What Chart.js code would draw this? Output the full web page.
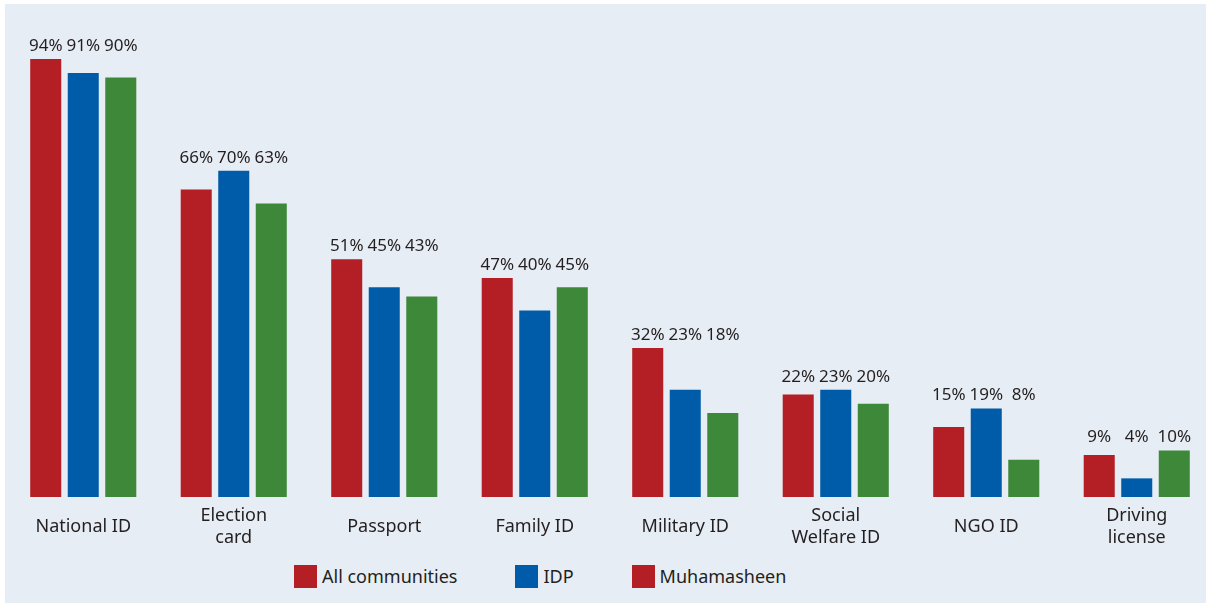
<!DOCTYPE html>
<html>
<head>
<meta charset="utf-8">
<script src="https://cdn.jsdelivr.net/npm/chart.js@4"></script>
<style>
  html, body { margin: 0; padding: 0; background: #fff; }
  body { width: 1206px; height: 606px; overflow: hidden; position: relative; font-family: "Noto Sans", sans-serif; }
  .panel { position: absolute; left: 5px; top: 4px; width: 1201px; height: 599px; background: #e7edf4; }
  .plot { position: absolute; left: 0; top: 0; width: 1220px; height: 560px; }
  .legend { position: absolute; left: 294px; top: 565px; display: flex; color: #231f20; font-size: 18px; line-height: 23px; }
  .legend .item { display: flex; align-items: center; margin-right: 58px; }
  .legend .swatch { width: 23px; height: 23px; margin-right: 5px; }
</style>
</head>
<body>
<div class="panel"></div>
<div class="plot"><canvas id="idChart" width="1220" height="560"></canvas></div>
<div class="legend" id="legend"></div>

<script>
// ID documents held, share of respondents (%)
const categories = [
  'National ID',
  ['Election', 'card'],
  'Passport',
  'Family ID',
  'Military ID',
  ['Social', 'Welfare ID'],
  'NGO ID',
  ['Driving', 'license']
];
const seriesNames = ['All communities', 'IDP', 'Muhamasheen'];
const allCommunities = [94, 66, 51, 47, 32, 22, 15, 9];
const idp = [91, 70, 45, 40, 23, 23, 19, 4];
const muhamasheen = [90, 63, 43, 45, 18, 20, 8, 10];

const RED = '#b31f24';
const BLUE = '#005ca8';
const GREEN = '#3e883a';
const TEXT = '#231f20';

// the printed key uses red for the third series too
const legendSwatches = [RED, BLUE, RED];

// percentages sit in one row per group, just above its tallest bar
const groupLabels = {
  id: 'groupLabels',
  afterDatasetsDraw(chart) {
    const ctx = chart.ctx;
    const metas = chart.getSortedVisibleDatasetMetas();
    ctx.save();
    ctx.font = '17px "Noto Sans"';
    ctx.fillStyle = TEXT;
    ctx.textAlign = 'center';
    ctx.textBaseline = 'alphabetic';
    categories.forEach((c, i) => {
      const top = Math.min(...metas.map(m => m.data[i].y));
      metas.forEach(m => {
        const v = chart.data.datasets[m.index].data[i];
        ctx.fillText(v + '%', m.data[i].x, top - 8);
      });
    });
    ctx.restore();
  }
};

const ctx = document.getElementById('idChart').getContext('2d');
const chart = new Chart(ctx, {
  type: 'bar',
  data: {
    labels: categories,
    datasets: [
      { label: seriesNames[0], data: allCommunities, backgroundColor: RED },
      { label: seriesNames[1], data: idp, backgroundColor: BLUE },
      { label: seriesNames[2], data: muhamasheen, backgroundColor: GREEN }
    ]
  },
  options: {
    responsive: false,
    animation: false,
    layout: { padding: { left: 8, right: 8, top: 31, bottom: 3 } },
    datasets: {
      bar: { categoryPercentage: 0.748, barPercentage: 0.827 }
    },
    plugins: {
      legend: { display: false },
      tooltip: { enabled: false }
    },
    scales: {
      x: {
        grid: { display: false },
        border: { display: false },
        ticks: {
          color: TEXT,
          font: { family: 'Noto Sans', size: 18, lineHeight: 1.22 },
          padding: 11,
          crossAlign: 'center',
          maxRotation: 0,
          autoSkip: false
        },
        afterFit: scale => { scale.height = 60; }
      },
      y: {
        display: false,
        min: 0,
        max: 100
      }
    }
  },
  plugins: [groupLabels]
});

// key below the plot
const legendEl = document.getElementById('legend');
seriesNames.forEach((name, i) => {
  const item = document.createElement('div');
  item.className = 'item';
  const sw = document.createElement('span');
  sw.className = 'swatch';
  sw.style.background = legendSwatches[i];
  const txt = document.createElement('span');
  txt.textContent = name;
  item.appendChild(sw);
  item.appendChild(txt);
  legendEl.appendChild(item);
});
</script>
</body>
</html>
